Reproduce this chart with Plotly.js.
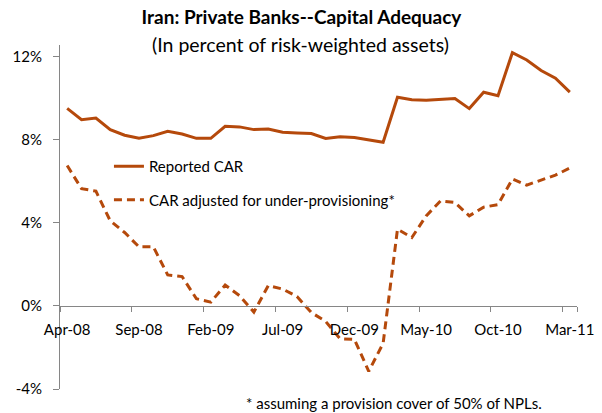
<!DOCTYPE html>
<html>
<head>
<meta charset="utf-8">
<script src="https://cdn.plot.ly/plotly-3.0.1.min.js"></script>
<style>html,body{margin:0;padding:0;background:#fff;}#chart{width:602px;height:413px;}</style>
</head>
<body>
<div id="chart"></div>
<script>
const months = ["Apr-08","May-08","Jun-08","Jul-08","Aug-08","Sep-08","Oct-08","Nov-08","Dec-08","Jan-09","Feb-09","Mar-09",
  "Apr-09","May-09","Jun-09","Jul-09","Aug-09","Sep-09","Oct-09","Nov-09","Dec-09","Jan-10","Feb-10","Mar-10",
  "Apr-10","May-10","Jun-10","Jul-10","Aug-10","Sep-10","Oct-10","Nov-10","Dec-10","Jan-11","Feb-11","Mar-11"];
const reportedCAR = [9.50, 8.96, 9.04, 8.48, 8.21, 8.06, 8.19, 8.40, 8.27, 8.06, 8.06, 8.64,
  8.61, 8.48, 8.51, 8.35, 8.32, 8.29, 8.05, 8.13, 8.10, 8.00, 7.87, 10.04,
  9.92, 9.89, 9.92, 9.98, 9.49, 10.28, 10.11, 12.18, 11.83, 11.32, 10.95, 10.28];
const adjustedCAR = [6.75, 5.64, 5.52, 4.09, 3.53, 2.84, 2.84, 1.49, 1.41, 0.34, 0.18, 1.00,
  0.49, -0.30, 0.97, 0.81, 0.45, -0.32, -0.75, -1.58, -1.61, -3.15, -1.80, 3.69,
  3.29, 4.33, 5.05, 4.97, 4.33, 4.75, 4.87, 6.10, 5.81, 6.06, 6.29, 6.63];
const xTickLabels = ["Apr-08","Sep-08","Feb-09","Jul-09","Dec-09","May-10","Oct-10","Mar-11"];
const yTickValues = [-4, 0, 4, 8, 12];
const yTickText = ["-4%", "0%", "4%", "8%", "12%"];
const seriesNames = ["Reported CAR", "CAR adjusted for under-provisioning*"];

const lineColor = "#B5490B";
const axisColor = "#868686";
const fontFam = "Lato, 'Open Sans', sans-serif";

const traces = [
  {x: months, y: reportedCAR, name: seriesNames[0], type: "scatter", mode: "lines",
   line: {color: lineColor, width: 3}, legendgroup: "a"},
  {x: months, y: adjustedCAR, name: seriesNames[1], type: "scatter", mode: "lines",
   line: {color: lineColor, width: 3, dash: "8px,5px"}, legendgroup: "b"}
];

const layout = {
  width: 602, height: 413,
  margin: {l: 60, r: 24.5, t: 45, b: 24},
  paper_bgcolor: "#fff", plot_bgcolor: "#fff",
  font: {family: fontFam, size: 15, color: "#000"},
  showlegend: true,
  title: {text: "<b>Iran: Private Banks--Capital Adequacy</b>", font: {family: fontFam, size: 19, color: "#000"},
          x: (301.5)/602, xanchor: "center", xref: "container", y: 1 - 17/413, yanchor: "middle", yref: "container"},
  annotations: [
    {text: "(In percent of risk-weighted assets)", xref: "paper", yref: "paper", x: (300.5-60)/517.5, y: (389-44)/344,
     xanchor: "center", yanchor: "middle", showarrow: false, font: {family: fontFam, size: 19.5, color: "#000"}},
    {text: "* assuming a provision cover of 50% of NPLs.", xref: "paper", yref: "paper",
     x: (244-60)/517.5, y: (389-403)/344, xanchor: "left", yanchor: "middle", showarrow: false,
     font: {family: fontFam, size: 15, color: "#000"}}
  ],
  xaxis: {
    type: "category", range: [-0.5, 35.5],
    tickmode: "array", tickvals: xTickLabels, ticktext: xTickLabels, tickangle: 0,
    tickson: "boundaries", ticks: "outside", ticklen: 5, tickcolor: axisColor,
    showline: true, linecolor: axisColor, linewidth: 1,
    showgrid: false, zeroline: false,
    anchor: "free", position: 4/16.55,
    tickfont: {family: fontFam, size: 15, color: "#000"},
    ticklabelstandoff: 10
  },
  yaxis: {
    range: [-4, 12.55],
    tickmode: "array", tickvals: yTickValues, ticktext: yTickText,
    ticks: "outside", ticklen: 6, tickcolor: axisColor,
    showline: true, linecolor: axisColor, linewidth: 1,
    showgrid: false, zeroline: false,
    tickfont: {family: fontFam, size: 15, color: "#000"},
    ticklabelstandoff: 8
  },
  legend: {
    x: (109-60)/517.5, xanchor: "left", y: (389-150)/344, yanchor: "top",
    bgcolor: "rgba(0,0,0,0)", borderwidth: 0,
    font: {family: fontFam, size: 15, color: "#000"},
    tracegroupgap: 11, itemwidth: 30
  }
};

Plotly.newPlot("chart", traces, layout, {displayModeBar: false, staticPlot: true});
</script>
</body>
</html>
